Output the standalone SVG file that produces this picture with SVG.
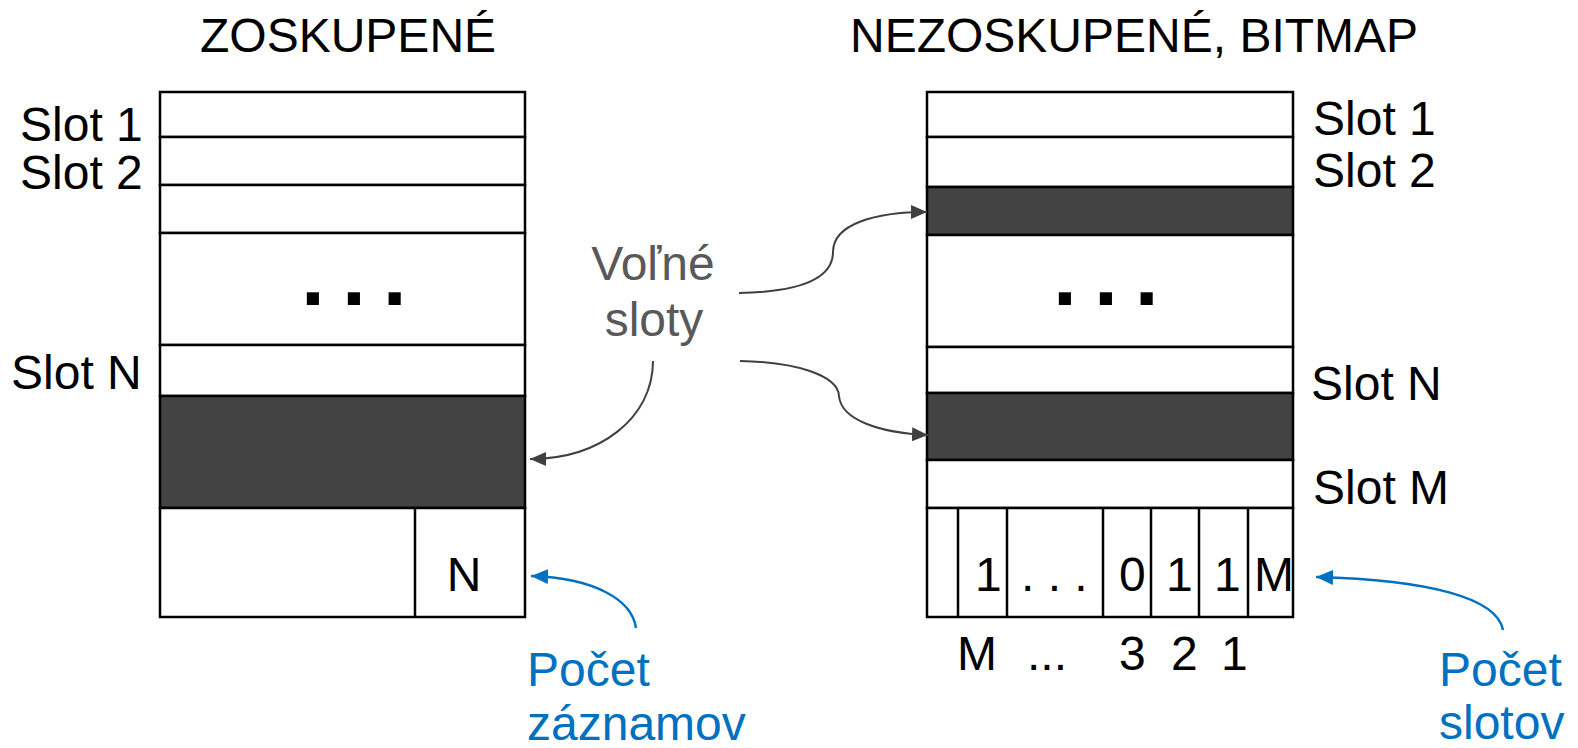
<svg xmlns="http://www.w3.org/2000/svg" width="1578" height="748" viewBox="0 0 1578 748">
  <style>
    text { font-family: "Liberation Sans", Arial, sans-serif; font-size: 48px; fill: #000; }
    .row { fill: #fff; stroke: #000; stroke-width: 2.5; }
    .free { fill: #434343; stroke: #000; stroke-width: 2.5; }
    .div { stroke: #000; stroke-width: 2.5; }
    .dots { font-weight: bold; font-size: 86px; letter-spacing: 17px; }
    .gray { fill: #595959; text-anchor: middle; }
    .blue { fill: #0070C0; }
    .mid { text-anchor: middle; }
    .arrow-gray { fill: none; stroke: #404040; stroke-width: 2; }
    .arrow-blue { fill: none; stroke: #0070C0; stroke-width: 2.5; }
  </style>
  <defs>
    <marker id="headGray" markerUnits="userSpaceOnUse" markerWidth="16" markerHeight="14" refX="16" refY="7" orient="auto">
      <path d="M0,0 L16,7 L0,14 z" fill="#404040"/>
    </marker>
    <marker id="headBlue" markerUnits="userSpaceOnUse" markerWidth="17" markerHeight="15" refX="17" refY="7.5" orient="auto">
      <path d="M0,0 L17,7.5 L0,15 z" fill="#0070C0"/>
    </marker>
  </defs>

  <rect width="1578" height="748" fill="#fff"/>

  <!-- clustered page -->
  <g id="title-clustered">
    <text x="200" y="52">ZOSKUPENÉ</text>
  </g>
  <g id="page-clustered">
    <rect class="row" x="160" y="92" width="365" height="45"/>
    <rect class="row" x="160" y="137" width="365" height="48"/>
    <rect class="row" x="160" y="185" width="365" height="48"/>
    <rect class="row" x="160" y="233" width="365" height="112"/>
    <rect class="row" x="160" y="345" width="365" height="51"/>
    <rect class="free" x="160" y="396" width="365" height="112"/>
    <rect class="row" x="160" y="508" width="365" height="109"/>
    <line class="div" x1="415" y1="508" x2="415" y2="617"/>
    <text class="dots" x="301" y="305">...</text>
    <text class="mid" x="464" y="591">N</text>
  </g>
  <g id="labels-clustered">
    <text x="20" y="141">Slot 1</text>
    <text x="20" y="189">Slot 2</text>
    <text x="11" y="389">Slot N</text>
  </g>

  <!-- unclustered page with bitmap -->
  <g id="title-bitmap">
    <text x="850" y="52">NEZOSKUPENÉ, BITMAP</text>
  </g>
  <g id="page-bitmap">
    <rect class="row" x="927" y="92" width="366" height="45"/>
    <rect class="row" x="927" y="137" width="366" height="50"/>
    <rect class="free" x="927" y="187" width="366" height="48"/>
    <rect class="row" x="927" y="235" width="366" height="112"/>
    <rect class="row" x="927" y="347" width="366" height="46"/>
    <rect class="free" x="927" y="393" width="366" height="67"/>
    <rect class="row" x="927" y="460" width="366" height="48"/>
    <rect class="row" x="927" y="508" width="366" height="109"/>
    <line class="div" x1="958" y1="508" x2="958" y2="617"/>
    <line class="div" x1="1007" y1="508" x2="1007" y2="617"/>
    <line class="div" x1="1103" y1="508" x2="1103" y2="617"/>
    <line class="div" x1="1151" y1="508" x2="1151" y2="617"/>
    <line class="div" x1="1199" y1="508" x2="1199" y2="617"/>
    <line class="div" x1="1248" y1="508" x2="1248" y2="617"/>
    <text class="dots" x="1053" y="305">...</text>
    <text y="591"><tspan x="975">1</tspan><tspan x="1021">. . .</tspan><tspan x="1119">0</tspan><tspan x="1166">1</tspan><tspan x="1214">1</tspan><tspan x="1254">M</tspan></text>
  </g>
  <g id="labels-bitmap">
    <text x="1313" y="135">Slot 1</text>
    <text x="1313" y="187">Slot 2</text>
    <text x="1311" y="400">Slot N</text>
    <text x="1313" y="504">Slot M</text>
    <text y="670"><tspan x="957">M</tspan><tspan x="1027">...</tspan><tspan x="1119">3</tspan><tspan x="1171">2</tspan><tspan x="1221">1</tspan></text>
  </g>

  <!-- callouts -->
  <g id="label-free">
    <text class="gray" x="653" y="280">Voľné</text>
    <text class="gray" x="654" y="336">sloty</text>
  </g>
  <g id="label-count-records">
    <text class="blue" x="527" y="686">Počet</text>
    <text class="blue" x="527" y="740">záznamov</text>
  </g>
  <g id="label-count-slots">
    <text class="blue" x="1439" y="686">Počet</text>
    <text class="blue" x="1439" y="739">slotov</text>
  </g>

  <g id="connectors">
    <path class="arrow-gray" marker-end="url(#headGray)" d="M739,293 C790,292 833,282 833,252 C833,224 875,212 927,212"/>
    <path class="arrow-gray" marker-end="url(#headGray)" d="M740,361 C795,362 838,375 839,396 C841,420 880,433 928,435"/>
    <path class="arrow-gray" marker-end="url(#headGray)" d="M653,361 C653,418 600,459 530,459"/>
    <path class="arrow-blue" marker-end="url(#headBlue)" d="M636,628 C632,600 595,578 531,576"/>
    <path class="arrow-blue" marker-end="url(#headBlue)" d="M1503,630 C1497,598 1430,580 1316,577"/>
  </g>
</svg>
